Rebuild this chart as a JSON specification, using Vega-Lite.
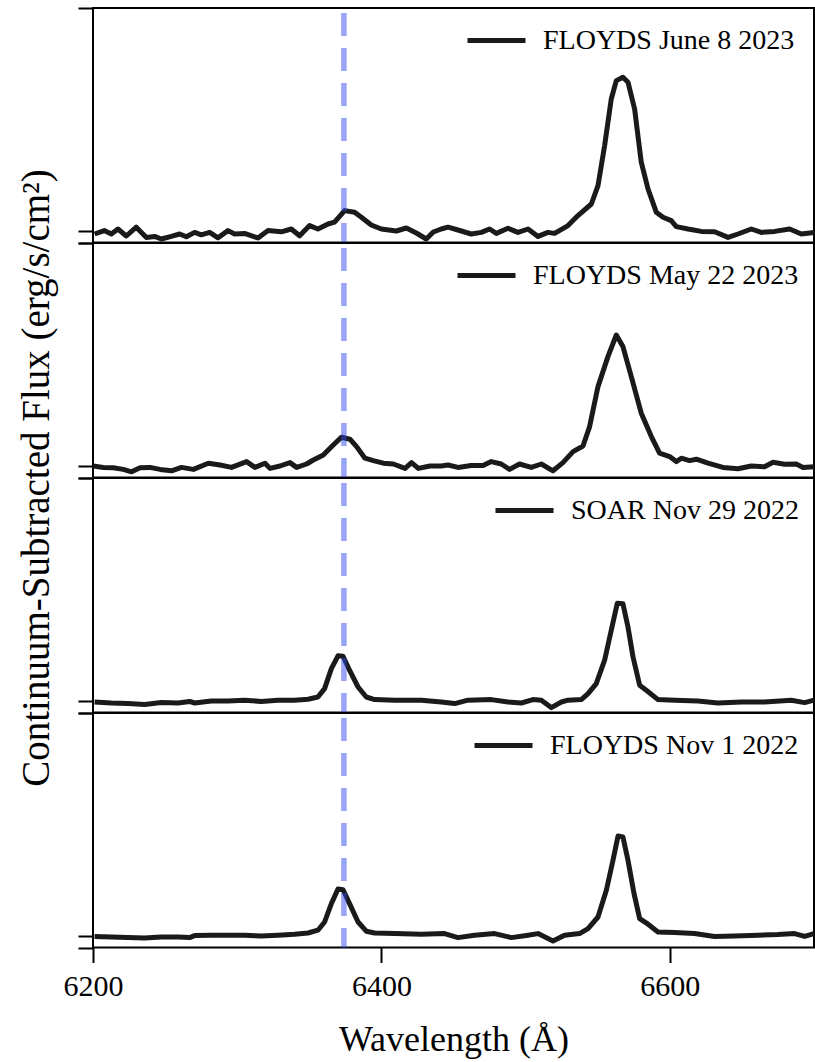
{
  "$schema": "https://vega.github.io/schema/vega-lite/v6.json",
  "background": "white",
  "padding": {"left": 15, "top": 4, "right": 1, "bottom": 0},
  "datasets": {
    "lines": [{"ion": "[Fe X]", "wavelength": 6374}],
    "spectra": [
      {"obs":"FLOYDS June 8 2023","wavelength":6201.1,"flux":-0.15},
      {"obs":"FLOYDS June 8 2023","wavelength":6207.8,"flux":0.02},
      {"obs":"FLOYDS June 8 2023","wavelength":6212.7,"flux":-0.15},
      {"obs":"FLOYDS June 8 2023","wavelength":6217.3,"flux":0.1},
      {"obs":"FLOYDS June 8 2023","wavelength":6223.1,"flux":-0.25},
      {"obs":"FLOYDS June 8 2023","wavelength":6230.0,"flux":0.19},
      {"obs":"FLOYDS June 8 2023","wavelength":6237.0,"flux":-0.32},
      {"obs":"FLOYDS June 8 2023","wavelength":6242.7,"flux":-0.27},
      {"obs":"FLOYDS June 8 2023","wavelength":6247.4,"flux":-0.4},
      {"obs":"FLOYDS June 8 2023","wavelength":6254.3,"flux":-0.27},
      {"obs":"FLOYDS June 8 2023","wavelength":6260.1,"flux":-0.15},
      {"obs":"FLOYDS June 8 2023","wavelength":6264.7,"flux":-0.29},
      {"obs":"FLOYDS June 8 2023","wavelength":6270.5,"flux":-0.07},
      {"obs":"FLOYDS June 8 2023","wavelength":6275.1,"flux":-0.19},
      {"obs":"FLOYDS June 8 2023","wavelength":6280.9,"flux":-0.07},
      {"obs":"FLOYDS June 8 2023","wavelength":6286.7,"flux":-0.34},
      {"obs":"FLOYDS June 8 2023","wavelength":6293.6,"flux":0.02},
      {"obs":"FLOYDS June 8 2023","wavelength":6298.2,"flux":-0.15},
      {"obs":"FLOYDS June 8 2023","wavelength":6305.1,"flux":-0.12},
      {"obs":"FLOYDS June 8 2023","wavelength":6314.4,"flux":-0.35},
      {"obs":"FLOYDS June 8 2023","wavelength":6321.4,"flux":0.02},
      {"obs":"FLOYDS June 8 2023","wavelength":6330.6,"flux":-0.04},
      {"obs":"FLOYDS June 8 2023","wavelength":6337.5,"flux":0.1},
      {"obs":"FLOYDS June 8 2023","wavelength":6343.3,"flux":-0.24},
      {"obs":"FLOYDS June 8 2023","wavelength":6350.2,"flux":0.27},
      {"obs":"FLOYDS June 8 2023","wavelength":6356.0,"flux":0.1},
      {"obs":"FLOYDS June 8 2023","wavelength":6363.0,"flux":0.35},
      {"obs":"FLOYDS June 8 2023","wavelength":6367.5,"flux":0.44},
      {"obs":"FLOYDS June 8 2023","wavelength":6374.5,"flux":1.02},
      {"obs":"FLOYDS June 8 2023","wavelength":6381.4,"flux":0.94},
      {"obs":"FLOYDS June 8 2023","wavelength":6386.1,"flux":0.69},
      {"obs":"FLOYDS June 8 2023","wavelength":6393.0,"flux":0.3},
      {"obs":"FLOYDS June 8 2023","wavelength":6399.9,"flux":0.1},
      {"obs":"FLOYDS June 8 2023","wavelength":6410.3,"flux":0.0},
      {"obs":"FLOYDS June 8 2023","wavelength":6417.3,"flux":0.15},
      {"obs":"FLOYDS June 8 2023","wavelength":6424.2,"flux":-0.1},
      {"obs":"FLOYDS June 8 2023","wavelength":6431.1,"flux":-0.4},
      {"obs":"FLOYDS June 8 2023","wavelength":6436.0,"flux":-0.05},
      {"obs":"FLOYDS June 8 2023","wavelength":6441.5,"flux":0.1},
      {"obs":"FLOYDS June 8 2023","wavelength":6446.2,"flux":0.19},
      {"obs":"FLOYDS June 8 2023","wavelength":6453.1,"flux":0.05},
      {"obs":"FLOYDS June 8 2023","wavelength":6462.3,"flux":-0.15},
      {"obs":"FLOYDS June 8 2023","wavelength":6469.3,"flux":-0.07},
      {"obs":"FLOYDS June 8 2023","wavelength":6475.0,"flux":0.1},
      {"obs":"FLOYDS June 8 2023","wavelength":6479.7,"flux":-0.12},
      {"obs":"FLOYDS June 8 2023","wavelength":6487.8,"flux":0.14},
      {"obs":"FLOYDS June 8 2023","wavelength":6494.7,"flux":-0.07},
      {"obs":"FLOYDS June 8 2023","wavelength":6501.7,"flux":0.1},
      {"obs":"FLOYDS June 8 2023","wavelength":6508.6,"flux":-0.27},
      {"obs":"FLOYDS June 8 2023","wavelength":6515.5,"flux":-0.07},
      {"obs":"FLOYDS June 8 2023","wavelength":6520.1,"flux":-0.12},
      {"obs":"FLOYDS June 8 2023","wavelength":6529.4,"flux":0.27},
      {"obs":"FLOYDS June 8 2023","wavelength":6536.3,"flux":0.77},
      {"obs":"FLOYDS June 8 2023","wavelength":6545.6,"flux":1.35},
      {"obs":"FLOYDS June 8 2023","wavelength":6550.2,"flux":2.27},
      {"obs":"FLOYDS June 8 2023","wavelength":6554.8,"flux":4.27},
      {"obs":"FLOYDS June 8 2023","wavelength":6559.4,"flux":6.6},
      {"obs":"FLOYDS June 8 2023","wavelength":6562.9,"flux":7.52},
      {"obs":"FLOYDS June 8 2023","wavelength":6567.5,"flux":7.69},
      {"obs":"FLOYDS June 8 2023","wavelength":6571.0,"flux":7.44},
      {"obs":"FLOYDS June 8 2023","wavelength":6575.6,"flux":6.1},
      {"obs":"FLOYDS June 8 2023","wavelength":6580.2,"flux":3.44},
      {"obs":"FLOYDS June 8 2023","wavelength":6584.9,"flux":2.1},
      {"obs":"FLOYDS June 8 2023","wavelength":6590.6,"flux":0.94},
      {"obs":"FLOYDS June 8 2023","wavelength":6595.3,"flux":0.69},
      {"obs":"FLOYDS June 8 2023","wavelength":6601.0,"flux":0.52},
      {"obs":"FLOYDS June 8 2023","wavelength":6604.5,"flux":0.22},
      {"obs":"FLOYDS June 8 2023","wavelength":6612.6,"flux":0.1},
      {"obs":"FLOYDS June 8 2023","wavelength":6621.8,"flux":-0.02},
      {"obs":"FLOYDS June 8 2023","wavelength":6631.1,"flux":-0.04},
      {"obs":"FLOYDS June 8 2023","wavelength":6640.4,"flux":-0.32},
      {"obs":"FLOYDS June 8 2023","wavelength":6647.3,"flux":-0.15},
      {"obs":"FLOYDS June 8 2023","wavelength":6656.5,"flux":0.1},
      {"obs":"FLOYDS June 8 2023","wavelength":6663.5,"flux":-0.07},
      {"obs":"FLOYDS June 8 2023","wavelength":6672.7,"flux":-0.02},
      {"obs":"FLOYDS June 8 2023","wavelength":6683.1,"flux":0.1},
      {"obs":"FLOYDS June 8 2023","wavelength":6691.2,"flux":-0.15},
      {"obs":"FLOYDS June 8 2023","wavelength":6700.0,"flux":-0.07},

      {"obs":"FLOYDS May 22 2023","wavelength":6200.2,"flux":0.0},
      {"obs":"FLOYDS May 22 2023","wavelength":6207.1,"flux":-0.07},
      {"obs":"FLOYDS May 22 2023","wavelength":6214.1,"flux":-0.09},
      {"obs":"FLOYDS May 22 2023","wavelength":6221.0,"flux":-0.17},
      {"obs":"FLOYDS May 22 2023","wavelength":6226.8,"flux":-0.29},
      {"obs":"FLOYDS May 22 2023","wavelength":6232.6,"flux":-0.09},
      {"obs":"FLOYDS May 22 2023","wavelength":6239.5,"flux":-0.07},
      {"obs":"FLOYDS May 22 2023","wavelength":6246.5,"flux":-0.17},
      {"obs":"FLOYDS May 22 2023","wavelength":6254.5,"flux":-0.24},
      {"obs":"FLOYDS May 22 2023","wavelength":6261.4,"flux":-0.07},
      {"obs":"FLOYDS May 22 2023","wavelength":6269.6,"flux":-0.17},
      {"obs":"FLOYDS May 22 2023","wavelength":6280.0,"flux":0.14},
      {"obs":"FLOYDS May 22 2023","wavelength":6288.1,"flux":0.05},
      {"obs":"FLOYDS May 22 2023","wavelength":6296.1,"flux":-0.07},
      {"obs":"FLOYDS May 22 2023","wavelength":6306.5,"flux":0.22},
      {"obs":"FLOYDS May 22 2023","wavelength":6312.3,"flux":-0.07},
      {"obs":"FLOYDS May 22 2023","wavelength":6319.3,"flux":0.14},
      {"obs":"FLOYDS May 22 2023","wavelength":6322.7,"flux":-0.12},
      {"obs":"FLOYDS May 22 2023","wavelength":6329.7,"flux":0.0},
      {"obs":"FLOYDS May 22 2023","wavelength":6336.6,"flux":0.17},
      {"obs":"FLOYDS May 22 2023","wavelength":6341.2,"flux":-0.07},
      {"obs":"FLOYDS May 22 2023","wavelength":6348.1,"flux":0.1},
      {"obs":"FLOYDS May 22 2023","wavelength":6352.8,"flux":0.3},
      {"obs":"FLOYDS May 22 2023","wavelength":6359.7,"flux":0.55},
      {"obs":"FLOYDS May 22 2023","wavelength":6366.6,"flux":1.05},
      {"obs":"FLOYDS May 22 2023","wavelength":6372.4,"flux":1.44},
      {"obs":"FLOYDS May 22 2023","wavelength":6378.2,"flux":1.34},
      {"obs":"FLOYDS May 22 2023","wavelength":6382.8,"flux":0.97},
      {"obs":"FLOYDS May 22 2023","wavelength":6388.6,"flux":0.39},
      {"obs":"FLOYDS May 22 2023","wavelength":6394.4,"flux":0.27},
      {"obs":"FLOYDS May 22 2023","wavelength":6401.3,"flux":0.14},
      {"obs":"FLOYDS May 22 2023","wavelength":6408.3,"flux":0.1},
      {"obs":"FLOYDS May 22 2023","wavelength":6416.4,"flux":-0.12},
      {"obs":"FLOYDS May 22 2023","wavelength":6420.9,"flux":0.17},
      {"obs":"FLOYDS May 22 2023","wavelength":6425.6,"flux":-0.12},
      {"obs":"FLOYDS May 22 2023","wavelength":6433.7,"flux":0.0},
      {"obs":"FLOYDS May 22 2023","wavelength":6441.5,"flux":0.0},
      {"obs":"FLOYDS May 22 2023","wavelength":6446.2,"flux":0.05},
      {"obs":"FLOYDS May 22 2023","wavelength":6453.1,"flux":-0.07},
      {"obs":"FLOYDS May 22 2023","wavelength":6462.3,"flux":0.02},
      {"obs":"FLOYDS May 22 2023","wavelength":6470.5,"flux":0.02},
      {"obs":"FLOYDS May 22 2023","wavelength":6476.2,"flux":0.22},
      {"obs":"FLOYDS May 22 2023","wavelength":6483.1,"flux":0.1},
      {"obs":"FLOYDS May 22 2023","wavelength":6488.9,"flux":-0.17},
      {"obs":"FLOYDS May 22 2023","wavelength":6495.8,"flux":0.1},
      {"obs":"FLOYDS May 22 2023","wavelength":6503.9,"flux":-0.07},
      {"obs":"FLOYDS May 22 2023","wavelength":6510.9,"flux":0.1},
      {"obs":"FLOYDS May 22 2023","wavelength":6519.0,"flux":-0.24},
      {"obs":"FLOYDS May 22 2023","wavelength":6525.9,"flux":0.17},
      {"obs":"FLOYDS May 22 2023","wavelength":6532.9,"flux":0.72},
      {"obs":"FLOYDS May 22 2023","wavelength":6539.8,"flux":1.0},
      {"obs":"FLOYDS May 22 2023","wavelength":6544.4,"flux":1.97},
      {"obs":"FLOYDS May 22 2023","wavelength":6550.2,"flux":3.97},
      {"obs":"FLOYDS May 22 2023","wavelength":6557.1,"flux":5.47},
      {"obs":"FLOYDS May 22 2023","wavelength":6562.9,"flux":6.55},
      {"obs":"FLOYDS May 22 2023","wavelength":6567.5,"flux":5.97},
      {"obs":"FLOYDS May 22 2023","wavelength":6573.3,"flux":4.47},
      {"obs":"FLOYDS May 22 2023","wavelength":6580.2,"flux":2.64},
      {"obs":"FLOYDS May 22 2023","wavelength":6587.2,"flux":1.47},
      {"obs":"FLOYDS May 22 2023","wavelength":6592.9,"flux":0.64},
      {"obs":"FLOYDS May 22 2023","wavelength":6599.9,"flux":0.47},
      {"obs":"FLOYDS May 22 2023","wavelength":6604.5,"flux":0.22},
      {"obs":"FLOYDS May 22 2023","wavelength":6608.0,"flux":0.39},
      {"obs":"FLOYDS May 22 2023","wavelength":6613.7,"flux":0.27},
      {"obs":"FLOYDS May 22 2023","wavelength":6618.4,"flux":0.34},
      {"obs":"FLOYDS May 22 2023","wavelength":6626.5,"flux":0.14},
      {"obs":"FLOYDS May 22 2023","wavelength":6636.9,"flux":-0.07},
      {"obs":"FLOYDS May 22 2023","wavelength":6647.3,"flux":-0.14},
      {"obs":"FLOYDS May 22 2023","wavelength":6656.5,"flux":0.0},
      {"obs":"FLOYDS May 22 2023","wavelength":6665.7,"flux":-0.04},
      {"obs":"FLOYDS May 22 2023","wavelength":6671.6,"flux":0.19},
      {"obs":"FLOYDS May 22 2023","wavelength":6679.6,"flux":0.09},
      {"obs":"FLOYDS May 22 2023","wavelength":6687.7,"flux":0.1},
      {"obs":"FLOYDS May 22 2023","wavelength":6692.4,"flux":-0.07},
      {"obs":"FLOYDS May 22 2023","wavelength":6700.0,"flux":-0.04},

      {"obs":"SOAR Nov 29 2022","wavelength":6201.1,"flux":-0.05},
      {"obs":"SOAR Nov 29 2022","wavelength":6212.7,"flux":-0.1},
      {"obs":"SOAR Nov 29 2022","wavelength":6224.3,"flux":-0.13},
      {"obs":"SOAR Nov 29 2022","wavelength":6235.8,"flux":-0.17},
      {"obs":"SOAR Nov 29 2022","wavelength":6247.4,"flux":-0.08},
      {"obs":"SOAR Nov 29 2022","wavelength":6258.9,"flux":-0.1},
      {"obs":"SOAR Nov 29 2022","wavelength":6267.0,"flux":-0.02},
      {"obs":"SOAR Nov 29 2022","wavelength":6270.5,"flux":-0.1},
      {"obs":"SOAR Nov 29 2022","wavelength":6282.0,"flux":0.0},
      {"obs":"SOAR Nov 29 2022","wavelength":6293.6,"flux":0.0},
      {"obs":"SOAR Nov 29 2022","wavelength":6305.1,"flux":0.04},
      {"obs":"SOAR Nov 29 2022","wavelength":6316.7,"flux":-0.02},
      {"obs":"SOAR Nov 29 2022","wavelength":6328.3,"flux":0.04},
      {"obs":"SOAR Nov 29 2022","wavelength":6339.8,"flux":0.04},
      {"obs":"SOAR Nov 29 2022","wavelength":6349.1,"flux":0.09},
      {"obs":"SOAR Nov 29 2022","wavelength":6356.0,"flux":0.2},
      {"obs":"SOAR Nov 29 2022","wavelength":6360.6,"flux":0.62},
      {"obs":"SOAR Nov 29 2022","wavelength":6365.3,"flux":1.62},
      {"obs":"SOAR Nov 29 2022","wavelength":6369.9,"flux":2.26},
      {"obs":"SOAR Nov 29 2022","wavelength":6373.4,"flux":2.24},
      {"obs":"SOAR Nov 29 2022","wavelength":6377.9,"flux":1.54},
      {"obs":"SOAR Nov 29 2022","wavelength":6383.8,"flux":0.7},
      {"obs":"SOAR Nov 29 2022","wavelength":6389.5,"flux":0.2},
      {"obs":"SOAR Nov 29 2022","wavelength":6395.3,"flux":0.07},
      {"obs":"SOAR Nov 29 2022","wavelength":6409.2,"flux":0.04},
      {"obs":"SOAR Nov 29 2022","wavelength":6427.7,"flux":0.04},
      {"obs":"SOAR Nov 29 2022","wavelength":6441.5,"flux":-0.05},
      {"obs":"SOAR Nov 29 2022","wavelength":6450.8,"flux":-0.13},
      {"obs":"SOAR Nov 29 2022","wavelength":6460.1,"flux":0.04},
      {"obs":"SOAR Nov 29 2022","wavelength":6476.2,"flux":0.07},
      {"obs":"SOAR Nov 29 2022","wavelength":6487.8,"flux":-0.05},
      {"obs":"SOAR Nov 29 2022","wavelength":6497.0,"flux":-0.1},
      {"obs":"SOAR Nov 29 2022","wavelength":6505.1,"flux":0.07},
      {"obs":"SOAR Nov 29 2022","wavelength":6510.9,"flux":0.04},
      {"obs":"SOAR Nov 29 2022","wavelength":6517.8,"flux":-0.33},
      {"obs":"SOAR Nov 29 2022","wavelength":6524.8,"flux":-0.05},
      {"obs":"SOAR Nov 29 2022","wavelength":6529.4,"flux":0.04},
      {"obs":"SOAR Nov 29 2022","wavelength":6538.6,"flux":0.07},
      {"obs":"SOAR Nov 29 2022","wavelength":6543.3,"flux":0.37},
      {"obs":"SOAR Nov 29 2022","wavelength":6549.0,"flux":0.87},
      {"obs":"SOAR Nov 29 2022","wavelength":6554.8,"flux":2.04},
      {"obs":"SOAR Nov 29 2022","wavelength":6559.4,"flux":3.54},
      {"obs":"SOAR Nov 29 2022","wavelength":6563.6,"flux":4.89},
      {"obs":"SOAR Nov 29 2022","wavelength":6567.5,"flux":4.86},
      {"obs":"SOAR Nov 29 2022","wavelength":6571.0,"flux":3.7},
      {"obs":"SOAR Nov 29 2022","wavelength":6574.5,"flux":2.2},
      {"obs":"SOAR Nov 29 2022","wavelength":6579.1,"flux":0.79},
      {"obs":"SOAR Nov 29 2022","wavelength":6583.7,"flux":0.54},
      {"obs":"SOAR Nov 29 2022","wavelength":6591.8,"flux":0.07},
      {"obs":"SOAR Nov 29 2022","wavelength":6603.3,"flux":0.04},
      {"obs":"SOAR Nov 29 2022","wavelength":6619.5,"flux":0.0},
      {"obs":"SOAR Nov 29 2022","wavelength":6633.4,"flux":-0.1},
      {"obs":"SOAR Nov 29 2022","wavelength":6649.6,"flux":-0.05},
      {"obs":"SOAR Nov 29 2022","wavelength":6665.7,"flux":-0.05},
      {"obs":"SOAR Nov 29 2022","wavelength":6684.2,"flux":0.04},
      {"obs":"SOAR Nov 29 2022","wavelength":6693.5,"flux":-0.08},
      {"obs":"SOAR Nov 29 2022","wavelength":6700.0,"flux":0.04},

      {"obs":"FLOYDS Nov 1 2022","wavelength":6201.1,"flux":-0.02},
      {"obs":"FLOYDS Nov 1 2022","wavelength":6212.7,"flux":-0.05},
      {"obs":"FLOYDS Nov 1 2022","wavelength":6224.3,"flux":-0.08},
      {"obs":"FLOYDS Nov 1 2022","wavelength":6235.8,"flux":-0.1},
      {"obs":"FLOYDS Nov 1 2022","wavelength":6247.4,"flux":-0.05},
      {"obs":"FLOYDS Nov 1 2022","wavelength":6258.9,"flux":-0.05},
      {"obs":"FLOYDS Nov 1 2022","wavelength":6267.0,"flux":-0.08},
      {"obs":"FLOYDS Nov 1 2022","wavelength":6270.5,"flux":0.02},
      {"obs":"FLOYDS Nov 1 2022","wavelength":6282.0,"flux":0.04},
      {"obs":"FLOYDS Nov 1 2022","wavelength":6293.6,"flux":0.04},
      {"obs":"FLOYDS Nov 1 2022","wavelength":6305.1,"flux":0.04},
      {"obs":"FLOYDS Nov 1 2022","wavelength":6316.7,"flux":0.0},
      {"obs":"FLOYDS Nov 1 2022","wavelength":6328.3,"flux":0.04},
      {"obs":"FLOYDS Nov 1 2022","wavelength":6339.8,"flux":0.09},
      {"obs":"FLOYDS Nov 1 2022","wavelength":6349.1,"flux":0.15},
      {"obs":"FLOYDS Nov 1 2022","wavelength":6356.0,"flux":0.29},
      {"obs":"FLOYDS Nov 1 2022","wavelength":6360.6,"flux":0.7},
      {"obs":"FLOYDS Nov 1 2022","wavelength":6365.3,"flux":1.62},
      {"obs":"FLOYDS Nov 1 2022","wavelength":6369.9,"flux":2.35},
      {"obs":"FLOYDS Nov 1 2022","wavelength":6373.4,"flux":2.31},
      {"obs":"FLOYDS Nov 1 2022","wavelength":6377.9,"flux":1.62},
      {"obs":"FLOYDS Nov 1 2022","wavelength":6383.8,"flux":0.7},
      {"obs":"FLOYDS Nov 1 2022","wavelength":6389.5,"flux":0.24},
      {"obs":"FLOYDS Nov 1 2022","wavelength":6395.3,"flux":0.15},
      {"obs":"FLOYDS Nov 1 2022","wavelength":6409.2,"flux":0.12},
      {"obs":"FLOYDS Nov 1 2022","wavelength":6427.7,"flux":0.09},
      {"obs":"FLOYDS Nov 1 2022","wavelength":6443.8,"flux":0.12},
      {"obs":"FLOYDS Nov 1 2022","wavelength":6453.1,"flux":-0.08},
      {"obs":"FLOYDS Nov 1 2022","wavelength":6464.6,"flux":0.04},
      {"obs":"FLOYDS Nov 1 2022","wavelength":6478.5,"flux":0.12},
      {"obs":"FLOYDS Nov 1 2022","wavelength":6490.1,"flux":-0.08},
      {"obs":"FLOYDS Nov 1 2022","wavelength":6501.7,"flux":0.04},
      {"obs":"FLOYDS Nov 1 2022","wavelength":6508.6,"flux":0.12},
      {"obs":"FLOYDS Nov 1 2022","wavelength":6519.0,"flux":-0.25},
      {"obs":"FLOYDS Nov 1 2022","wavelength":6527.0,"flux":0.04},
      {"obs":"FLOYDS Nov 1 2022","wavelength":6537.4,"flux":0.12},
      {"obs":"FLOYDS Nov 1 2022","wavelength":6543.3,"flux":0.37},
      {"obs":"FLOYDS Nov 1 2022","wavelength":6550.2,"flux":0.95},
      {"obs":"FLOYDS Nov 1 2022","wavelength":6556.0,"flux":2.29},
      {"obs":"FLOYDS Nov 1 2022","wavelength":6560.6,"flux":3.79},
      {"obs":"FLOYDS Nov 1 2022","wavelength":6564.1,"flux":5.0},
      {"obs":"FLOYDS Nov 1 2022","wavelength":6567.5,"flux":4.95},
      {"obs":"FLOYDS Nov 1 2022","wavelength":6571.0,"flux":3.79},
      {"obs":"FLOYDS Nov 1 2022","wavelength":6575.2,"flux":2.12},
      {"obs":"FLOYDS Nov 1 2022","wavelength":6579.1,"flux":0.87},
      {"obs":"FLOYDS Nov 1 2022","wavelength":6584.9,"flux":0.59},
      {"obs":"FLOYDS Nov 1 2022","wavelength":6591.8,"flux":0.2},
      {"obs":"FLOYDS Nov 1 2022","wavelength":6603.3,"flux":0.17},
      {"obs":"FLOYDS Nov 1 2022","wavelength":6617.2,"flux":0.12},
      {"obs":"FLOYDS Nov 1 2022","wavelength":6631.1,"flux":-0.02},
      {"obs":"FLOYDS Nov 1 2022","wavelength":6644.9,"flux":0.0},
      {"obs":"FLOYDS Nov 1 2022","wavelength":6661.1,"flux":0.04},
      {"obs":"FLOYDS Nov 1 2022","wavelength":6675.0,"flux":0.07},
      {"obs":"FLOYDS Nov 1 2022","wavelength":6686.5,"flux":0.12},
      {"obs":"FLOYDS Nov 1 2022","wavelength":6693.5,"flux":-0.02},
      {"obs":"FLOYDS Nov 1 2022","wavelength":6700.0,"flux":0.12}
    ]
  },
  "spacing": 0,
  "bounds": "flush",
  "resolve": {"scale": {"stroke": "independent"}, "legend": {"stroke": "independent"}},
  "vconcat": [
    {
      "width": 721, "height": 234.5,
      "layer": [
        {
          "data": {"name": "spectra"},
          "transform": [{"filter": "datum.obs === 'FLOYDS June 8 2023'"}],
          "mark": {"type": "line", "strokeWidth": 5, "strokeJoin": "round"},
          "encoding": {
            "x": {"field": "wavelength", "type": "quantitative", "scale": {"domain": [6200, 6700], "nice": false, "zero": false}, "axis": null},
            "y": {"field": "flux", "type": "quantitative", "scale": {"domain": [-0.575, 11.15], "nice": false, "zero": false},
                  "axis": {"values": [-0.575, 0, 11.15], "labels": false, "title": null}},
            "stroke": {"field": "obs", "type": "nominal", "scale": {"range": ["#1a1a1a"]},
                       "legend": {"orient": "none", "legendX": 372, "legendY": 1}}
          }
        },
        {
          "data": {"name": "lines"},
          "mark": {"type": "rule", "color": "#3349e9", "opacity": 0.5, "strokeWidth": 5.5, "strokeDash": [23, 12], "strokeDashOffset": 30},
          "encoding": {
            "x": {"field": "wavelength", "type": "quantitative"},
            "y": {"datum": 11.15},
            "y2": {"datum": -0.575}
          }
        }
      ]
    },
    {
      "width": 721, "height": 234.5,
      "layer": [
        {
          "data": {"name": "spectra"},
          "transform": [{"filter": "datum.obs === 'FLOYDS May 22 2023'"}],
          "mark": {"type": "line", "strokeWidth": 5, "strokeJoin": "round"},
          "encoding": {
            "x": {"field": "wavelength", "type": "quantitative", "scale": {"domain": [6200, 6700], "nice": false, "zero": false}, "axis": null},
            "y": {"field": "flux", "type": "quantitative", "scale": {"domain": [-0.575, 11.15], "nice": false, "zero": false},
                  "axis": {"values": [-0.575, 0, 11.15], "labels": false,
                           "title": "Continuum-Subtracted Flux (erg/s/cm²)", "titleFontSize": 39,
                           "titleAngle": 270, "titleAlign": "center", "titleBaseline": "middle",
                           "titleX": -57, "titleY": 234.5}},
            "stroke": {"field": "obs", "type": "nominal", "scale": {"range": ["#1a1a1a"]},
                       "legend": {"orient": "none", "legendX": 362, "legendY": 1}}
          }
        },
        {
          "data": {"name": "lines"},
          "mark": {"type": "rule", "color": "#3349e9", "opacity": 0.5, "strokeWidth": 5.5, "strokeDash": [23, 12], "strokeDashOffset": 30},
          "encoding": {
            "x": {"field": "wavelength", "type": "quantitative"},
            "y": {"datum": 11.15},
            "y2": {"datum": -0.575}
          }
        }
      ]
    },
    {
      "width": 721, "height": 234.5,
      "layer": [
        {
          "data": {"name": "spectra"},
          "transform": [{"filter": "datum.obs === 'SOAR Nov 29 2022'"}],
          "mark": {"type": "line", "strokeWidth": 5, "strokeJoin": "round"},
          "encoding": {
            "x": {"field": "wavelength", "type": "quantitative", "scale": {"domain": [6200, 6700], "nice": false, "zero": false}, "axis": null},
            "y": {"field": "flux", "type": "quantitative", "scale": {"domain": [-0.575, 11.15], "nice": false, "zero": false},
                  "axis": {"values": [-0.575, 0, 11.15], "labels": false, "title": null}},
            "stroke": {"field": "obs", "type": "nominal", "scale": {"range": ["#1a1a1a"]},
                       "legend": {"orient": "none", "legendX": 400, "legendY": 1}}
          }
        },
        {
          "data": {"name": "lines"},
          "mark": {"type": "rule", "color": "#3349e9", "opacity": 0.5, "strokeWidth": 5.5, "strokeDash": [23, 12], "strokeDashOffset": 30},
          "encoding": {
            "x": {"field": "wavelength", "type": "quantitative"},
            "y": {"datum": 11.15},
            "y2": {"datum": -0.575}
          }
        }
      ]
    },
    {
      "width": 721, "height": 234.5,
      "layer": [
        {
          "data": {"name": "spectra"},
          "transform": [{"filter": "datum.obs === 'FLOYDS Nov 1 2022'"}],
          "mark": {"type": "line", "strokeWidth": 5, "strokeJoin": "round"},
          "encoding": {
            "x": {"field": "wavelength", "type": "quantitative", "scale": {"domain": [6200, 6700], "nice": false, "zero": false},
                  "axis": {"values": [6200, 6400, 6600], "format": "d", "title": "Wavelength (Å)", "titleFontSize": 36,
                           "labelFontSize": 30, "labelPadding": 9, "titlePadding": 21, "labelFlush": false}},
            "y": {"field": "flux", "type": "quantitative", "scale": {"domain": [-0.575, 11.15], "nice": false, "zero": false},
                  "axis": {"values": [-0.575, 0, 11.15], "labels": false, "title": null}},
            "stroke": {"field": "obs", "type": "nominal", "scale": {"range": ["#1a1a1a"]},
                       "legend": {"orient": "none", "legendX": 379, "legendY": 1}}
          }
        },
        {
          "data": {"name": "lines"},
          "mark": {"type": "rule", "color": "#3349e9", "opacity": 0.5, "strokeWidth": 5.5, "strokeDash": [23, 12], "strokeDashOffset": 30},
          "encoding": {
            "x": {"field": "wavelength", "type": "quantitative"},
            "y": {"datum": 11.15},
            "y2": {"datum": -0.575}
          }
        }
      ]
    }
  ],
  "config": {
    "font": "Liberation Serif",
    "view": {"stroke": "black", "strokeWidth": 2},
    "axis": {
      "grid": false, "domain": false,
      "ticks": true, "tickSize": 15, "tickWidth": 2, "tickColor": "black",
      "labelColor": "black", "labelFont": "Liberation Serif",
      "titleColor": "black", "titleFont": "Liberation Serif", "titleFontWeight": "normal"
    },
    "legend": {
      "title": null, "padding": 0,
      "symbolType": "stroke", "symbolStrokeWidth": 5, "symbolSize": 3364,
      "labelFont": "Liberation Serif", "labelFontSize": 28, "labelColor": "black",
      "labelOffset": 15, "labelLimit": 0
    }
  }
}
